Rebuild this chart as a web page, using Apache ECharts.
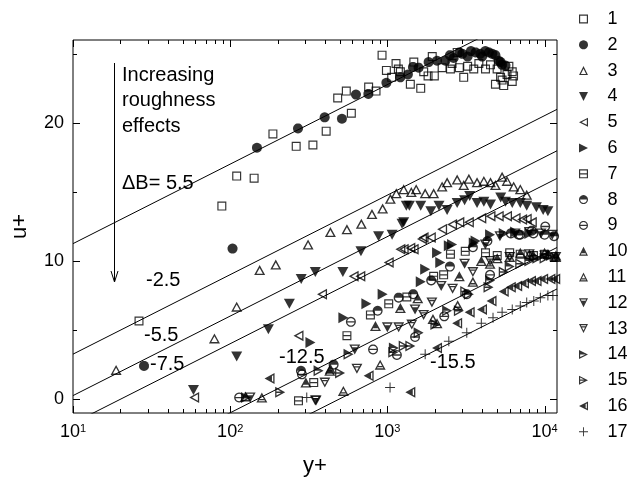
<!DOCTYPE html>
<html><head><meta charset="utf-8">
<script src="https://cdn.jsdelivr.net/npm/echarts@6/dist/echarts.min.js"></script>
<style>html,body{margin:0;padding:0;background:#fff}#c{width:638px;height:482px}</style>
</head><body><div id="c"></div>
<script>
// ---------------- DATA (y+, u+) ----------------
const seriesNames = ['1','2','3','4','5','6','7','8','9','10','11','12','13','14','15','16','17'];
const s1 = [[26.3,5.66],[88.5,13.98],[110,16.15],[142,16.0],[187,19.2],[263,18.3],[336,18.4],[408,19.4],[483,21.8],[548,22.3],[590,20.7],[760,22.6],[847,22.3],[925,24.9],[986,23.8],[1065,23.3],[1135,24.3],[1175,23.9],[1210,23.7],[1400,22.8],[1473,24.4],[1630,22.5],[1703,23.7],[1815,23.4],[1930,24.8],[1990,23.4],[2230,24.0],[2520,23.9],[2580,24.3],[2780,25.1],[2870,24.0],[3060,23.3],[3240,24.1],[3545,23.9],[3820,24.3],[4210,23.9],[4530,24.2],[4870,22.8],[4990,23.9],[5250,23.3],[5370,23.1],[5500,22.7],[5770,23.5],[5930,24.1],[6230,23.7],[6230,23.0],[6350,23.4]];
const s2 = [[28.3,2.41],[103.5,10.9],[148,18.2],[270,19.6],[399,20.4],[514,20.3],[631,22.05],[757,22.1],[986,22.9],[1210,23.3],[1350,23.5],[1455,24.05],[1580,24.0],[1830,24.4],[2070,24.5],[2340,24.5],[2500,24.9],[2640,24.7],[2870,25.1],[3000,25.0],[3240,24.8],[3400,25.2],[3640,25.1],[3900,25.0],[4010,24.8],[4200,25.2],[4420,25.1],[4650,25.0],[4870,24.9],[5110,24.5],[5250,24.4],[5370,24.2],[5640,24.15]];
const s3 = [[18.8,2.12],[79.4,4.4],[110,6.7],[154,9.35],[195,9.75],[313,11.2],[434,12.1],[553,12.3],[683,12.7],[798,13.4],[933,13.8],[1045,14.5],[1140,14.9],[1270,15.2],[1420,15.0],[1525,15.2],[1740,14.9],[1970,14.9],[2230,15.4],[2400,15.7],[2780,15.9],[3060,15.5],[3300,15.95],[3720,15.7],[4110,15.8],[4530,15.7],[4870,15.5],[5370,16.1],[5770,15.8],[6360,15.4],[7010,15.2],[7700,14.8]];
const s4 = [[58.4,0.67],[110,3.09],[175,5.06],[238,6.9],[283,8.7],[348,9.2],[521,9.2],[679,10.7],[879,11.8],[1072,11.9],[1240,12.7],[1270,12.8],[1320,14.0],[1380,14.0],[1630,14.0],[1890,13.6],[2130,14.0],[2400,13.7],[2780,14.2],[3100,14.4],[3340,14.7],[3720,14.2],[4110,14.3],[4530,14.1],[5260,14.6],[5640,14.3],[6230,14.2],[7010,14.2],[7700,14.0],[8870,13.9],[9800,13.7],[10500,13.6]];
const s5 = [[59,0.12],[272,4.6],[384,7.6],[610,8.9],[673,8.9],[1020,9.9],[1210,10.85],[1270,10.85],[1400,10.95],[1470,10.85],[1660,11.6],[1700,11.7],[1890,11.7],[2230,12.3],[2580,12.65],[2870,12.8],[3300,12.8],[3960,13.1],[4530,13.25],[5110,13.25],[5770,13.25],[6540,13.1],[7200,13.0],[7700,13.05],[8300,12.8]];
const s6 = [[324,4.1],[525,5.9],[735,6.9],[933,7.6],[1630,8.5],[1740,9.4],[2070,10.6],[2170,9.9],[2460,11.1],[2580,11.2],[3545,11.3],[3640,11.45],[4500,11.9],[5500,12.0],[6500,12.1],[8000,12.0]];
const s7 = [[272,-0.12],[340,1.2],[553,4.6],[780,6.1],[1020,6.9],[1330,7.4],[1970,8.9],[2280,9.0],[2520,10.5],[3130,10.7],[4210,10.6],[5000,10.4],[6000,10.6],[7000,10.5],[8500,10.4],[10000,10.5],[11500,10.3]];
const s8 = [[282,2.05],[455,2.5],[867,6.4],[1180,7.35],[1460,7.6],[1900,8.6],[2500,9.6],[3500,11.0],[4330,11.45],[6100,12.0],[7000,11.9],[8500,12.0],[10000,11.9],[11500,11.8]];
const s9 = [[114,0.12],[286,1.8],[586,5.6],[811,3.6],[1150,3.2],[1500,4.5],[2300,6.0],[3200,7.6],[4500,9.0],[6850,11.9],[8300,12.2],[10100,12.5]];
const s10 = [[125,0.2],[303,1.2],[430,2.05],[840,5.3],[1210,6.6],[1560,7.3],[2870,8.9],[3960,10.0],[5000,10.2],[7010,10.6],[8500,10.4],[10500,10.5],[11800,10.3]];
const s11 = [[159,0.12],[434,2.2],[525,0.6],[900,2.5],[1950,5.8],[2070,5.5],[2800,6.8],[3500,8.5],[4500,9.8],[6000,10.3],[8000,10.5],[10000,10.6],[11800,10.4]];
const s12 = [[134,0.12],[352,-0.1],[620,3.6],[1000,5.2],[1500,6.5],[2200,8.2],[3100,9.8],[4200,11.2],[5200,11.8],[6500,12.0],[8000,12.1],[9500,12.0],[11200,11.9]];
const s13 = [[348,-0.1],[400,1.2],[640,2.2],[1180,5.2],[1430,5.4],[1700,6.1],[1920,7.0],[2600,8.0],[3500,9.2],[4500,10.0],[6000,10.3],[8000,10.5],[10000,10.4],[11800,10.3]];
const s14 = [[126,0.12],[365,2.05],[566,3.25],[1100,3.7],[1580,4.8],[2400,6.4],[3300,7.6],[4500,8.6],[6000,9.6],[8000,10.0],[10000,10.2]];
const s15 = [[208,0.5],[500,1.9],[1090,3.4],[1270,3.85],[1400,3.85],[2020,5.4],[2850,6.4],[3130,7.8],[4400,8.1],[5500,9.2],[7000,9.8],[9000,10.2],[11000,10.4]];
const s16 = [[178,1.5],[760,1.7],[1400,0.5],[2070,3.7],[2780,5.5],[3340,6.3],[4000,6.5],[4600,7.1],[5500,7.8],[6100,8.1],[6700,8.2],[7400,8.4],[8200,8.55],[8900,8.55],[9800,8.7],[10900,8.7],[11700,8.7]];
const s17 = [[307,0.12],[1040,0.85],[1740,3.25],[2460,4.2],[3200,4.8],[3960,5.5],[4700,5.9],[5370,6.3],[6230,6.5],[7010,6.75],[7700,7.0],[8540,7.1],[9400,7.35],[10500,7.5],[11300,7.5]];
const seriesData = [s1,s2,s3,s4,s5,s6,s7,s8,s9,s10,s11,s12,s13,s14,s15,s16,s17];

// log-law lines (end points), labelled by their B value
const lineLabels = ['\u0394B= 5.5','-2.5','-5.5','-7.5','-12.5','-15.5'];
const lineEnds = [
  [[10,11.26],[12000,28.98]],
  [[10,3.26],[12000,20.98]],
  [[10,0.26],[12000,17.98]],
  [[10,-1.74],[12000,15.98]],
  [[10,-6.74],[12000,10.98]],
  [[10,-9.74],[12000,7.98]]
];
const xExtent = [10, 12000];
const yExtent = [-1, 26];
const xMajorTicks = [10,100,1000,10000];
const xMinorTicks = [20,30,40,50,60,70,80,90,200,300,400,500,600,700,800,900,2000,3000,4000,5000,6000,7000,8000,9000];
const yMajorTicks = [0,10,20];
const yMinorTicks = [5,15,25];
const yLabels = [0,10,20];

// ---------------- marker geometry ----------------
function area(p){let a=0;for(let i=0;i<p.length;i++){const q=p[(i+1)%p.length];a+=p[i][0]*q[1]-q[0]*p[i][1];}return a/2;}
function ori(p,pos){return (area(p)>0)===pos?p:p.slice().reverse();}
function toPath(p){return 'M'+p.map(v=>v[0].toFixed(2)+' '+v[1].toFixed(2)).join(' L')+' Z ';}
function inset(p,t){
  const P=ori(p,true),n=P.length,L=[];
  for(let i=0;i<n;i++){const a=P[i],b=P[(i+1)%n];const dx=b[0]-a[0],dy=b[1]-a[1],l=Math.hypot(dx,dy);L.push({p:[a[0]-dy/l*t,a[1]+dx/l*t],d:[dx,dy]});}
  const out=[];
  for(let i=0;i<n;i++){const A=L[(i-1+n)%n],B=L[i];const cr=A.d[0]*B.d[1]-A.d[1]*B.d[0];
    if(Math.abs(cr)<1e-9){out.push(B.p);continue;}
    const qx=B.p[0]-A.p[0],qy=B.p[1]-A.p[1];const s=(qx*B.d[1]-qy*B.d[0])/cr;out.push([A.p[0]+A.d[0]*s,A.p[1]+A.d[1]*s]);}
  return out;
}
function clip(p,f){const out=[],n=p.length;for(let i=0;i<n;i++){const a=p[i],b=p[(i+1)%n],fa=f(a),fb=f(b);if(fa<=0)out.push(a);if((fa<=0)!==(fb<=0)){const s=fa/(fa-fb);out.push([a[0]+(b[0]-a[0])*s,a[1]+(b[1]-a[1])*s]);}}return out;}
const T=13;
const SQ=[[0,0],[100,0],[100,100],[0,100]];
const CIRC=[];for(let i=0;i<24;i++){const a=i*Math.PI/12;CIRC.push([50+50*Math.cos(a),50+50*Math.sin(a)]);}
const TU=[[50,0],[100,100],[0,100]];
const TD=[[0,0],[100,0],[50,100]];
const TL=[[0,50],[100,0],[100,100]];
const TR=[[0,0],[100,50],[0,100]];
function hbar(inner,c,w){return clip(clip(inner,p=>p[1]-(c+w/2)),p=>(c-w/2)-p[1]);}
function ring(outer,extras){const inner=inset(outer,T);let s=toPath(ori(outer,true))+toPath(ori(inner,false));(extras?extras(inner):[]).forEach(e=>{if(e.length>2)s+=toPath(ori(e,true));});return 'path://'+s;}
function solid(outer){return 'path://'+toPath(ori(outer,true));}
function rectP(x1,y1,x2,y2){return [[x1,y1],[x2,y1],[x2,y2],[x1,y2]];}
const symbols = [
  ring(SQ), solid(CIRC), ring(TU), solid(TD), ring(TL), solid(TR),
  ring(SQ,i=>[hbar(i,50,T)]),
  ring(CIRC,i=>[clip(i,p=>p[1]-50)]),
  ring(CIRC,i=>[hbar(i,50,T)]),
  ring(TU,i=>[clip(i,p=>p[1]-72)]),
  ring(TU,i=>[hbar(i,70,T)]),
  ring(TD,i=>[clip(i,p=>28-p[1])]),
  ring(TD,i=>[hbar(i,30,T)]),
  ring(TR,i=>[clip(i,p=>p[1]-50)]),
  ring(TR,i=>[hbar(i,50,T)]),
  ring(TL,i=>[clip(i,p=>p[0]-74)]),
  'path://'+toPath(ori(rectP(0,45,100,55),true))+toPath(ori(rectP(45,0,55,100),true))
];
const sizes = [9,10,[11,10],[11,10],[10,11],[10,11],9,10,10,[11,10],[11,10],[11,10],[11,10],[10,11],[10,11],[10,11],10];

// ---------------- chart ----------------
const FONT = '"Liberation Sans", Arial, Helvetica, sans-serif';
const chart = echarts.init(document.getElementById('c'), null, {renderer:'canvas'});

const series = [];
lineEnds.forEach((pts,i)=>series.push({type:'line', name:'line'+i, data:pts, symbol:'none', silent:true, z:1,
  lineStyle:{color:'#000', width:1}, clip:true, animation:false}));
seriesData.forEach((d,i)=>series.push({type:'scatter', name:seriesNames[i], data:d, symbol:symbols[i], symbolSize:sizes[i],
  itemStyle:{color:'#000'}, z:3, silent:true, animation:false}));

function tickSeries(data, dir){
  return {type:'custom', silent:true, z:5, clip:false, animation:false, data:data,
    renderItem:function(params, api){
      const cs=params.coordSys, len=api.value(2);
      if(dir==='x'){
        const px=Math.round(api.coord([api.value(0),api.value(1)])[0])+0.5;
        const yb=cs.y+cs.height, yt=cs.y;
        return {type:'group',children:[
          {type:'line',shape:{x1:px,y1:yb,x2:px,y2:yb-len},style:{stroke:'#000',lineWidth:1}},
          {type:'line',shape:{x1:px,y1:yt,x2:px,y2:yt+len},style:{stroke:'#000',lineWidth:1}}]};
      } else {
        const py=Math.round(api.coord([api.value(0),api.value(1)])[1])+0.5;
        const xl=cs.x, xr=cs.x+cs.width;
        return {type:'group',children:[
          {type:'line',shape:{x1:xl,y1:py,x2:xl+len,y2:py},style:{stroke:'#000',lineWidth:1}},
          {type:'line',shape:{x1:xr,y1:py,x2:xr-len,y2:py},style:{stroke:'#000',lineWidth:1}}]};
      }
    }};
}
series.push(tickSeries(xMajorTicks.map(v=>[v,0,7]).concat(xMinorTicks.map(v=>[v,0,4])),'x'));
series.push(tickSeries(yMajorTicks.map(v=>[10,v,7]).concat(yMinorTicks.map(v=>[10,v,4])),'y'));

const annotations = [
  {text:'Increasing', x:122, y:75},
  {text:'roughness', x:122, y:100},
  {text:'effects', x:122, y:126},
  {text:lineLabels[0], x:122, y:183},
  {text:lineLabels[1], x:146, y:280},
  {text:lineLabels[2], x:144, y:335},
  {text:lineLabels[3], x:150, y:364},
  {text:lineLabels[4], x:279, y:357},
  {text:lineLabels[5], x:430, y:362}
];
const graphics = annotations.map(a=>({type:'text', x:a.x, y:a.y, z:10, silent:true,
  style:{text:a.text, fill:'#000', fontSize:20, fontFamily:FONT, verticalAlign:'middle', textVerticalAlign:'middle', align:'left'}}));
graphics.push({type:'line', silent:true, z:10, shape:{x1:114.5,y1:63,x2:114.5,y2:281}, style:{stroke:'#000',lineWidth:1}});
graphics.push({type:'polyline', silent:true, z:10, shape:{points:[[111,271],[114.5,282],[118,271]]}, style:{stroke:'#000',lineWidth:1,fill:null}});

chart.setOption({
  animation:false,
  backgroundColor:'#fff',
  textStyle:{fontFamily:FONT, color:'#000'},
  grid:{left:73, right:81, top:40, bottom:68, show:true, borderColor:'#000', borderWidth:1, backgroundColor:'transparent'},
  xAxis:{type:'log', logBase:10, min:xExtent[0], max:xExtent[1],
    name:'y+', nameLocation:'middle', nameGap:42, nameTextStyle:{fontSize:22, color:'#000', fontFamily:FONT},
    axisLine:{show:false}, axisTick:{show:false}, splitLine:{show:false}, minorTick:{show:false},
    axisLabel:{margin:10, color:'#000', showMaxLabel:false,
      formatter:function(v){const e=Math.log10(v);if(Math.abs(e-Math.round(e))>1e-6)return '';return '{b|10}{s|'+Math.round(e)+'}';},
      rich:{b:{fontSize:18, fontFamily:FONT, color:'#000'}, s:{fontSize:11, fontFamily:FONT, color:'#000', verticalAlign:'top'}}}},
  yAxis:{type:'value', min:yExtent[0], max:yExtent[1],
    name:'u+', nameLocation:'middle', nameGap:42, nameRotate:90, nameTextStyle:{fontSize:22, color:'#000', fontFamily:FONT},
    axisLine:{show:false}, axisTick:{show:false}, splitLine:{show:false},
    axisLabel:{margin:9, fontSize:18, color:'#000', fontFamily:FONT, showMinLabel:false, showMaxLabel:false,
      formatter:function(v){return yLabels.indexOf(v)>=0?String(v):'';}}},
  legend:{orient:'vertical', left:574, top:5, itemWidth:38, itemHeight:9, itemGap:7.8, symbolKeepAspect:true,
    data:seriesNames.slice(), selectedMode:false,
    textStyle:{fontSize:18, color:'#000', fontFamily:FONT}},
  graphic:graphics,
  series:series
});
</script></body></html>
